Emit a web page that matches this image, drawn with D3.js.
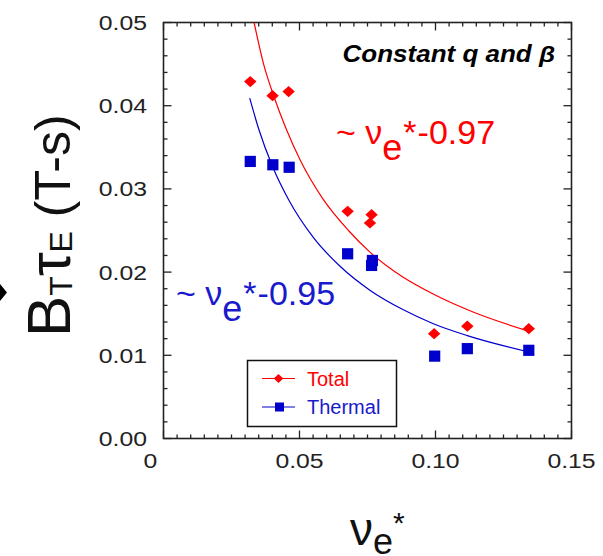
<!DOCTYPE html>
<html>
<head>
<meta charset="utf-8">
<script src="https://cdn.jsdelivr.net/npm/d3@7"></script>
<style>
  body { margin: 0; background: #fff; }
  svg { display: block; font-family: "Liberation Sans", Arial, sans-serif; }
</style>
</head>
<body>
<svg id="chart" width="603" height="556"></svg>
<script>
// measured points (nu_e*, B_T tau_E)
const totalX   = [0.0319, 0.0401, 0.0460, 0.0677, 0.0765, 0.0759, 0.0995, 0.1117, 0.1343];
const totalY   = [0.0429, 0.0412, 0.0417, 0.0273, 0.0269, 0.0259, 0.0126, 0.0135, 0.0132];
const thermalX = [0.0319, 0.0402, 0.0462, 0.0677, 0.0765, 0.0768, 0.0997, 0.1117, 0.1343];
const thermalY = [0.0333, 0.0329, 0.0326, 0.0222, 0.0208, 0.0214, 0.0099, 0.0108, 0.0106];

// fit curves
const totalFitX   = [0.0333, 0.0368, 0.0405, 0.0450, 0.0502, 0.0586, 0.0680, 0.0759, 0.0880, 0.0995, 0.1138, 0.1343];
const totalFitY   = [0.0500, 0.0450, 0.0412, 0.0373, 0.0335, 0.0288, 0.0250, 0.0224, 0.0194, 0.0173, 0.0152, 0.0129];
const thermalFitX = [0.0317, 0.0350, 0.0402, 0.0460, 0.0550, 0.0649, 0.0760, 0.0880, 0.0992, 0.1114, 0.1343];
const thermalFitY = [0.0409, 0.0372, 0.0326, 0.0287, 0.0242, 0.0207, 0.0178, 0.0155, 0.0138, 0.0124, 0.0104];

const xTicks = [0, 0.05, 0.10, 0.15];
const xTickLabels = ["0", "0.05", "0.10", "0.15"];
const yTicks = [0, 0.01, 0.02, 0.03, 0.04, 0.05];
const yTickLabels = ["0.00", "0.01", "0.02", "0.03", "0.04", "0.05"];

const RED = "#ff0000", BLUE = "#0000cc";

const svg = d3.select("#chart");
const m = { left: 163.5, right: 571.5, top: 22.5, bottom: 438.5 };

const x = d3.scaleLinear().domain([0, 0.15]).range([m.left, m.right]);
const y = d3.scaleLinear().domain([0, 0.05]).range([m.bottom, m.top]);

svg.append("clipPath").attr("id", "clip")
  .append("rect").attr("x", m.left).attr("y", m.top)
  .attr("width", m.right - m.left).attr("height", m.bottom - m.top);

// ticks (inside) on all four sides
const axes = svg.append("g").attr("stroke", "#222").attr("stroke-width", 1.3);
const xMinor = d3.range(0, 0.1501, 0.005);
const yMinor = d3.range(0, 0.05001, 0.002);
xMinor.forEach((v, i) => {
  const len = (i % 10 === 0) ? 8 : 4;
  axes.append("line").attr("x1", x(v)).attr("x2", x(v)).attr("y1", m.bottom).attr("y2", m.bottom - len);
  axes.append("line").attr("x1", x(v)).attr("x2", x(v)).attr("y1", m.top).attr("y2", m.top + len);
});
yMinor.forEach((v, i) => {
  const len = (i % 5 === 0) ? 8 : 4;
  axes.append("line").attr("y1", y(v)).attr("y2", y(v)).attr("x1", m.left).attr("x2", m.left + len);
  axes.append("line").attr("y1", y(v)).attr("y2", y(v)).attr("x1", m.right).attr("x2", m.right - len);
});
axes.append("rect").attr("x", m.left).attr("y", m.top)
  .attr("width", m.right - m.left).attr("height", m.bottom - m.top)
  .attr("fill", "none").attr("stroke-width", 1.6);

// tick labels (slightly wide face in the original)
xTicks.forEach((v, i) => {
  svg.append("text")
    .attr("transform", `translate(${x(v) + (i === 0 ? -13 : 0)},468) scale(1.18,1)`)
    .attr("text-anchor", "middle").attr("font-size", 21).attr("fill", "#222")
    .text(xTickLabels[i]);
});
yTicks.forEach((v, i) => {
  svg.append("text")
    .attr("transform", `translate(147,${y(v)}) scale(1.18,1)`)
    .attr("text-anchor", "end").attr("dy", "0.36em").attr("font-size", 21).attr("fill", "#222")
    .text(yTickLabels[i]);
});

// fit curves
const line = d3.line().x(d => x(d[0])).y(d => y(d[1])).curve(d3.curveMonotoneX);
const plot = svg.append("g").attr("clip-path", "url(#clip)");
plot.append("path").datum(d3.zip(totalFitX, totalFitY))
  .attr("d", line).attr("fill", "none").attr("stroke", RED).attr("stroke-width", 1.2);
plot.append("path").datum(d3.zip(thermalFitX, thermalFitY))
  .attr("d", line).attr("fill", "none").attr("stroke", BLUE).attr("stroke-width", 1.2);

// markers
const diamond = (cx, cy, w, h) => `M${cx},${cy - h}L${cx + w},${cy}L${cx},${cy + h}L${cx - w},${cy}Z`;
plot.selectAll(".tot").data(d3.zip(totalX, totalY)).enter().append("path")
  .attr("d", d => diamond(x(d[0]), y(d[1]), 6.2, 5.6)).attr("fill", RED);
plot.selectAll(".th").data(d3.zip(thermalX, thermalY)).enter().append("rect")
  .attr("x", d => x(d[0]) - 5.6).attr("y", d => y(d[1]) - 5.6)
  .attr("width", 11.2).attr("height", 11.2).attr("fill", BLUE);

// legend
const lg = svg.append("g");
lg.append("rect").attr("x", 247.5).attr("y", 360.5).attr("width", 149).attr("height", 66)
  .attr("fill", "#fff").attr("stroke", "#111").attr("stroke-width", 1.5);
lg.append("line").attr("x1", 262).attr("x2", 295).attr("y1", 378.5).attr("y2", 378.5).attr("stroke", RED).attr("stroke-width", 1.2);
lg.append("path").attr("d", diamond(278.5, 378.5, 4.8, 4.6)).attr("fill", RED);
lg.append("text").attr("x", 307).attr("y", 385.5).attr("font-size", 20).attr("fill", RED).text("Total");
lg.append("line").attr("x1", 262).attr("x2", 295).attr("y1", 407).attr("y2", 407).attr("stroke", BLUE).attr("stroke-width", 1.2);
lg.append("rect").attr("x", 275).attr("y", 402.5).attr("width", 9).attr("height", 9).attr("fill", BLUE);
lg.append("text").attr("x", 307).attr("y", 414).attr("font-size", 20).attr("fill", "#1a1acc").text("Thermal");

// title note
svg.append("text")
  .attr("transform", "translate(555,62) scale(1.13,1)")
  .attr("text-anchor", "end").attr("font-size", 23).attr("font-weight", "bold")
  .attr("font-style", "italic").attr("fill", "#000").text("Constant q and β");

// scaling annotations
function scaling(x0, base, expo, color) {
  const t = svg.append("text").attr("fill", color).attr("font-size", 34);
  t.append("tspan").attr("x", x0).attr("y", base).text("~ ν");
  t.append("tspan").attr("font-size", 36).attr("dy", 16).text("e");
  t.append("tspan").attr("dy", -16).attr("dx", 1).text("*");
  t.append("tspan").attr("dx", 1).text(expo);
}
scaling(336, 143.5, "-0.97", RED);
scaling(176, 305, "-0.95", "#1a1acc");

// axis titles
const yl = svg.append("text")
  .attr("transform", "translate(70,337) rotate(-90)")
  .attr("font-size", 50).attr("fill", "#111");
yl.append("tspan").attr("font-size", 62).text("B");
yl.append("tspan").attr("font-size", 32).attr("dy", 2).text("T");
yl.append("tspan").attr("font-size", 60).attr("dy", -2).text("τ");
yl.append("tspan").attr("font-size", 32).attr("dy", 2).text("E");
yl.append("tspan").attr("dy", -2).text(" (T-s)");

const xl = svg.append("text").attr("x", 350).attr("y", 545).attr("font-size", 46).attr("fill", "#111");
xl.append("tspan").text("ν");
xl.append("tspan").attr("font-size", 36).attr("dy", 9).text("e");
xl.append("tspan").attr("font-size", 30).attr("dy", -21).text("*");

// arrow tip at left edge
svg.append("path").attr("d", "M0,284L7,292.5L0,301Z").attr("fill", "#000");
</script>
</body>
</html>
